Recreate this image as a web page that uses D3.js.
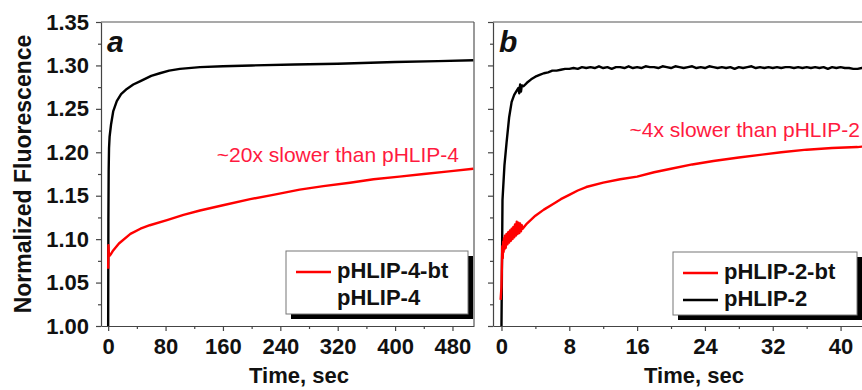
<!DOCTYPE html>
<html>
<head>
<meta charset="utf-8">
<script src="https://cdn.jsdelivr.net/npm/d3@7/dist/d3.min.js"></script>
<style>
  body { margin: 0; background: #fff; }
  svg { display: block; font-family: Arial, 'Liberation Sans', sans-serif; }
  .axis text { font-size: 22px; font-weight: bold; fill: #111; }
  .axis path, .axis line { stroke: #444; stroke-width: 1.2; }
</style>
</head>
<body>
<div id="chart"></div>
<script>
'use strict';

// ---- data (time in sec, normalized fluorescence) ----
var yTicks = [1.00, 1.05, 1.10, 1.15, 1.20, 1.25, 1.30, 1.35];
var yMinor = [1.025, 1.075, 1.125, 1.175, 1.225, 1.275, 1.325];
var aTicks = [0, 80, 160, 240, 320, 400, 480];
var aMinor = [40, 120, 200, 280, 360, 440];
var bTicks = [0, 8, 16, 24, 32, 40];
var bMinor = [4, 12, 20, 28, 36];

var pHLIP4 = [[0, 1.000], [0.3, 1.120], [0.7, 1.180], [1.2, 1.205], [2, 1.218], [4, 1.232],
  [7, 1.247], [12, 1.259], [18, 1.267], [26, 1.273], [35, 1.278], [45, 1.282], [60, 1.288],
  [72, 1.291], [85, 1.294], [100, 1.296], [128, 1.298], [160, 1.299], [200, 1.300],
  [260, 1.301], [320, 1.302], [400, 1.304], [460, 1.305], [509, 1.306]];

var pHLIP4bt = [[0, 1.066], [0.4, 1.093], [1, 1.083], [2, 1.081], [4, 1.083], [7, 1.087],
  [15, 1.095], [31, 1.106], [45, 1.112], [58, 1.116], [82, 1.122], [105, 1.128], [128, 1.133],
  [160, 1.139], [198, 1.146], [230, 1.151], [267, 1.157], [300, 1.161], [337, 1.165],
  [370, 1.169], [406, 1.172], [440, 1.175], [475, 1.178], [509, 1.181]];

var pHLIP2 = [[0, 1.000], [0.05, 1.060], [0.12, 1.145], [0.35, 1.185], [0.6, 1.211], [0.9, 1.240],
  [1.2, 1.258], [1.5, 1.266], [1.8, 1.271], [2.0, 1.274], [2.1, 1.268], [2.2, 1.278], [2.3, 1.270],
  [2.4, 1.277], [2.6, 1.276], [3.0, 1.280], [3.5, 1.284], [4.0, 1.287], [4.5, 1.289], [5.0, 1.291],
  [5.5, 1.292], [6.0, 1.294], [6.5, 1.294], [7.0, 1.295], [7.5, 1.296], [8.0, 1.296], [8.5, 1.297],
  [9.0, 1.296], [9.5, 1.298], [10, 1.297], [10.5, 1.298], [11, 1.297], [11.5, 1.299], [12, 1.297],
  [12.5, 1.298], [13, 1.296], [13.5, 1.298], [14, 1.298], [14.5, 1.297], [15, 1.299], [15.5, 1.297],
  [16, 1.298], [16.5, 1.297], [17, 1.299], [17.5, 1.298], [18, 1.298], [18.5, 1.297], [19, 1.299],
  [19.5, 1.298], [20, 1.297], [20.5, 1.299], [21, 1.298], [21.5, 1.297], [22, 1.298], [22.5, 1.299],
  [23, 1.297], [23.5, 1.298], [24, 1.297], [24.5, 1.299], [25, 1.298], [25.5, 1.297], [26, 1.298],
  [26.5, 1.297], [27, 1.298], [27.5, 1.296], [28, 1.298], [28.5, 1.297], [29, 1.298], [29.5, 1.299],
  [30, 1.297], [30.5, 1.298], [31, 1.297], [31.5, 1.298], [32, 1.297], [32.5, 1.298], [33, 1.297],
  [33.5, 1.298], [34, 1.298], [34.5, 1.297], [35, 1.298], [35.5, 1.297], [36, 1.298], [36.5, 1.297],
  [37, 1.298], [37.5, 1.297], [38, 1.298], [38.5, 1.296], [39, 1.298], [39.5, 1.297], [40, 1.298],
  [40.5, 1.297], [41, 1.297], [41.5, 1.296], [42, 1.296], [42.5, 1.297], [43, 1.296]];

var pHLIP2bt = [[-0.1, 1.030], [0.0, 1.045], [0.05, 1.070], [0.1, 1.092], [0.15, 1.078], [0.2, 1.097],
  [0.25, 1.085], [0.3, 1.101], [0.35, 1.088], [0.4, 1.104], [0.5, 1.090], [0.6, 1.106], [0.7, 1.094],
  [0.8, 1.108], [0.9, 1.096], [1.0, 1.110], [1.1, 1.098], [1.2, 1.112], [1.3, 1.100], [1.4, 1.114],
  [1.5, 1.102], [1.6, 1.117], [1.7, 1.104], [1.8, 1.120], [1.9, 1.106], [2.0, 1.119], [2.1, 1.107],
  [2.2, 1.118], [2.3, 1.109], [2.4, 1.116], [2.5, 1.112], [3.0, 1.118], [4.0, 1.127], [5.0, 1.134],
  [6.0, 1.140], [7.0, 1.146], [8.0, 1.151], [9.0, 1.156], [10, 1.160], [12, 1.165], [14, 1.169],
  [16, 1.172], [18, 1.177], [20, 1.181], [22.5, 1.186], [25, 1.190], [28, 1.194], [30.5, 1.197],
  [33, 1.200], [36, 1.203], [39, 1.205], [42, 1.206], [43, 1.207]];

var panels = [
  {
    id: 'a', xDomain: [-10, 510], left: 101, right: 474, ticks: aTicks, minor: aMinor,
    yLabels: true, titleX: 299, rightBorder: true,
    series: [{ data: pHLIP4, color: '#000' }, { data: pHLIP4bt, color: '#ff0000' }],
    note: '~20x slower than pHLIP-4', noteX: 459, noteY: 162,
    legend: { x: 286, y: 251, w: 182, h: 63,
      items: [{ name: 'pHLIP-4-bt', color: '#ff0000' }, { name: 'pHLIP-4', color: null }] }
  },
  {
    id: 'b', xDomain: [-1, 43], left: 493, right: 866, ticks: bTicks, minor: bMinor,
    yLabels: false, titleX: 694, rightBorder: false,
    series: [{ data: pHLIP2, color: '#000' }, { data: pHLIP2bt, color: '#ff0000' }],
    note: '~4x slower than pHLIP-2', noteX: 860, noteY: 137,
    legend: { x: 673, y: 252, w: 184, h: 63,
      items: [{ name: 'pHLIP-2-bt', color: '#ff0000' }, { name: 'pHLIP-2', color: '#000' }] }
  }
];

var plotTop = 22, plotBottom = 326;

var svg = d3.select('#chart').append('svg').attr('width', 862).attr('height', 390);
svg.append('rect').attr('width', 862).attr('height', 390).attr('fill', '#fff');

var y = d3.scaleLinear().domain([1.0, 1.35]).range([plotBottom, plotTop]);

panels.forEach(function (p) {
  var x = d3.scaleLinear().domain(p.xDomain).range([p.left, p.right]);
  var g = svg.append('g');

  g.append('clipPath').attr('id', 'clip-' + p.id).append('rect')
    .attr('x', p.left).attr('y', plotTop).attr('width', p.right - p.left).attr('height', plotBottom - plotTop);

  // frame top / right
  g.append('line').attr('x1', p.left).attr('x2', p.right).attr('y1', plotTop).attr('y2', plotTop)
    .attr('stroke', '#555').attr('stroke-width', 1.2);
  if (p.rightBorder) {
    g.append('line').attr('x1', p.right).attr('x2', p.right).attr('y1', plotTop).attr('y2', plotBottom)
      .attr('stroke', '#555').attr('stroke-width', 1.2);
  }

  // x axis
  g.append('g').attr('class', 'axis').attr('transform', 'translate(0,' + plotBottom + ')')
    .call(d3.axisBottom(x).tickValues(p.ticks).tickSize(5).tickSizeOuter(0).tickPadding(7)
      .tickFormat(d3.format('d')));
  g.append('g').attr('class', 'axis').attr('transform', 'translate(0,' + plotBottom + ')')
    .call(d3.axisBottom(x).tickValues(p.minor).tickSize(3).tickSizeOuter(0).tickFormat(''))
    .select('.domain').remove();

  // y axis
  g.append('g').attr('class', 'axis').attr('transform', 'translate(' + p.left + ',0)')
    .call(d3.axisLeft(y).tickValues(yTicks).tickSize(5).tickSizeOuter(0).tickPadding(7)
      .tickFormat(p.yLabels ? d3.format('.2f') : ''));
  g.append('g').attr('class', 'axis').attr('transform', 'translate(' + p.left + ',0)')
    .call(d3.axisLeft(y).tickValues(yMinor).tickSize(3).tickSizeOuter(0).tickFormat(''))
    .select('.domain').remove();

  // curves
  var line = d3.line().x(function (d) { return x(d[0]); }).y(function (d) { return y(d[1]); });
  var plot = g.append('g').attr('clip-path', 'url(#clip-' + p.id + ')');
  p.series.forEach(function (s) {
    plot.append('path').datum(s.data).attr('d', line).attr('fill', 'none')
      .attr('stroke', s.color).attr('stroke-width', 2.4).attr('stroke-linejoin', 'round');
  });

  // panel letter
  g.append('text').attr('x', p.left + 6).attr('y', 52).text(p.id)
    .style('font-size', '30px').style('font-weight', 'bold').style('font-style', 'italic').attr('fill', '#111');

  // note
  g.append('text').attr('x', p.noteX).attr('y', p.noteY).attr('text-anchor', 'end').text(p.note)
    .style('font-size', '21px').attr('fill', '#ff1a40');

  // x title
  g.append('text').attr('x', p.titleX).attr('y', 383).attr('text-anchor', 'middle').text('Time, sec')
    .style('font-size', '22px').style('font-weight', 'bold').attr('fill', '#111');

  // legend
  var L = p.legend;
  var lg = g.append('g');
  lg.append('rect').attr('x', L.x + 5).attr('y', L.y + 5).attr('width', L.w).attr('height', L.h).attr('fill', '#000');
  lg.append('rect').attr('x', L.x).attr('y', L.y).attr('width', L.w).attr('height', L.h)
    .attr('fill', '#fff').attr('stroke', '#777').attr('stroke-width', 1);
  L.items.forEach(function (it, i) {
    var cy = L.y + 21 + i * 27;
    if (it.color) {
      lg.append('line').attr('x1', L.x + 10).attr('x2', L.x + 45).attr('y1', cy).attr('y2', cy)
        .attr('stroke', it.color).attr('stroke-width', 2.4);
    }
    lg.append('text').attr('x', L.x + 51).attr('y', cy + 6).text(it.name)
      .style('font-size', '22px').style('font-weight', 'bold').attr('fill', '#111');
  });
});

// y title
svg.append('text').attr('transform', 'translate(31,174) rotate(-90)').attr('text-anchor', 'middle')
  .text('Normalized Fluorescence').style('font-size', '23px').style('font-weight', 'bold').attr('fill', '#111');
</script>
</body>
</html>
